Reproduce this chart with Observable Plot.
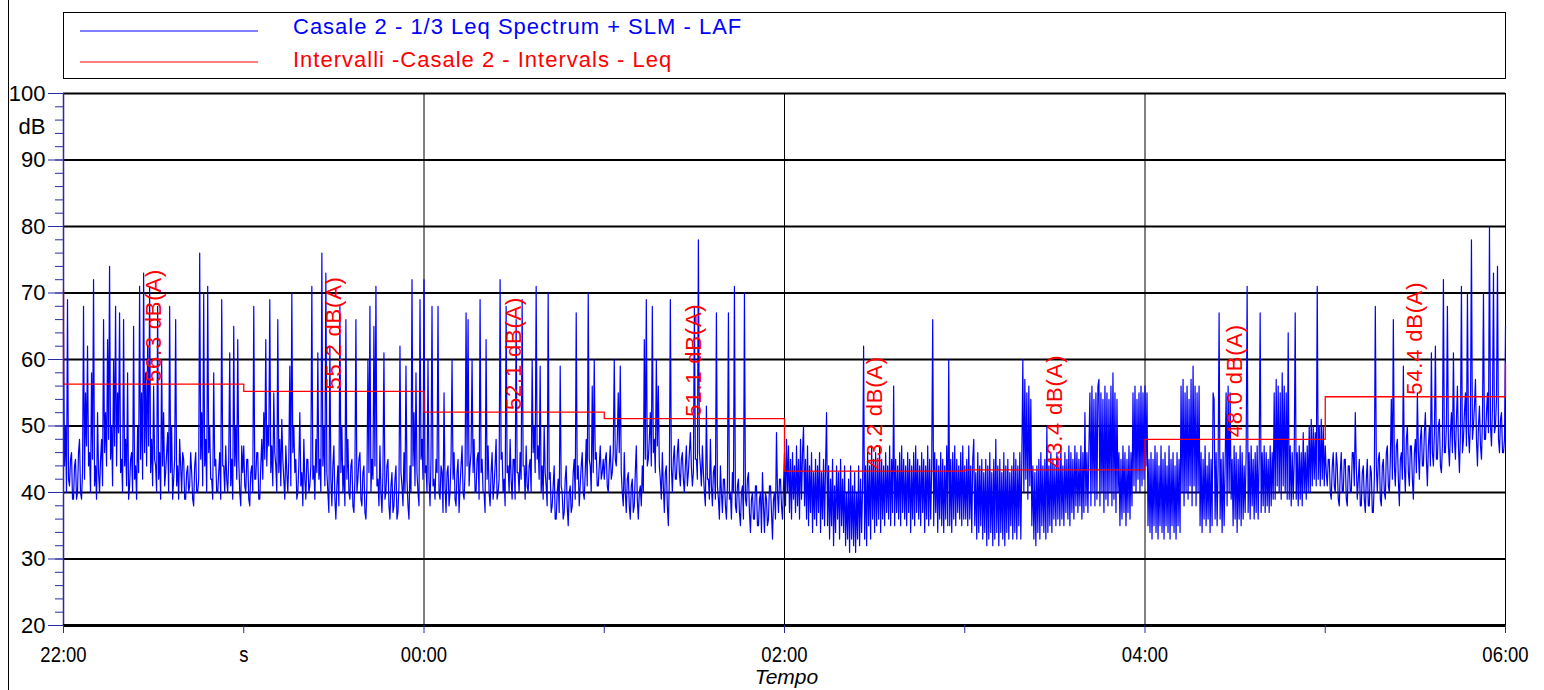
<!DOCTYPE html>
<html><head><meta charset="utf-8">
<script src="https://cdn.jsdelivr.net/npm/d3@7"></script>
<script src="https://cdn.jsdelivr.net/npm/@observablehq/plot@0.6"></script>
<style>
body{margin:0;background:#fff;overflow:hidden;}
#chart svg{display:block;}
.leqlabel text{letter-spacing:0.8px;}
</style></head><body><div id="chart"></div>
<script>
// Blue series: LAF level (dB), one array per hour (22:00 → 06:00),
// 180 samples per hour evenly spread (the last hour also holds the 06:00 point)
const hour1 = [64,44,50,40,69,42,41,45,46,39,39,44,45,39,40,46,48,40,39,43, 68,42,55,47,62,44,46,40,58,45,72,41,44,39,52,43,40,45,48,41, 66,46,52,44,63,48,74,45,50,41,60,47,68,44,55,49,67,43,45,40, 66,44,48,41,58,39,41,45,46,40,65,42,44,39,50,43,71,45,55,42, 73,46,58,44,62,47,71,43,48,41,56,45,44,40,68,42,46,39,60,44, 52,41,43,46,49,40,68,43,50,39,42,45,66,41,44,39,48,44,40,46, 45,39,39,43,44,40,41,46,43,39,38,44,46,40,40,42,76,45,52,41, 70,44,48,40,71,46,50,42,42,39,58,44,45,40,40,43,46,39,69,44, 44,40,47,42,40,45,61,41,45,39,65,44,50,42,63,45,40,38,47,43];
const hour2 = [47,41,40,45,45,39,38,43,44,40,68,42,42,46,46,39,39,44,48,42, 52,45,63,44,50,47,69,43,47,41,55,46,44,40,66,43,48,41,51,45, 42,39,47,43,40,45,59,41,70,46,50,43,45,39,40,44,52,41,43,38, 48,42,39,45,45,40,41,44,71,42,44,39,48,43,61,42,45,40,76,44, 50,41,73,43,40,37,62,42,38,44,47,39,36,41,44,38,68,43,50,40, 44,38,66,42,48,40,39,44,45,38,37,42,66,40,42,45,46,39,38,43, 44,37,36,41,60,43,68,40,45,42,65,44,71,41,42,38,47,40,37,43, 61,39,40,44,45,38,36,41,43,37,38,42,44,36,37,41,62,43,41,38, 46,40,59,42,38,36,44,40,72,44,52,41,58,43,40,38,69,45,48,42];
const hour3 = [72,43,44,40,60,42,38,45,68,41,42,39,45,43,68,40,39,44,43,37, 55,41,37,43,44,38,40,45,60,42,46,39,38,43,45,37,41,44,47,40, 39,43,67,44,66,41,44,46,60,43,48,40,40,45,46,39,69,43,45,40, 40,37,63,42,47,40,38,43,46,39,41,44,48,39,40,42,72,45,46,40, 42,38,68,43,44,40,48,42,39,45,45,39,66,43,43,40,46,42,69,44, 44,39,47,41,40,44,45,40,60,46,50,43,71,45,47,42,59,40,44,39, 50,43,41,38,70,42,43,37,38,41,44,36,36,40,42,37,59,41,40,36, 37,42,44,38,35,40,41,37,38,43,45,39,67,42,44,38,41,44,46,40, 39,43,48,41,70,45,44,40,56,43,60,45,46,41,41,44,47,42,43,45];
const hour4 = [42,45,46,41,40,44,47,42,43,46,60,45,44,48,55,46,59,43,40,38, 46,40,37,42,43,38,36,41,42,37,38,43,47,39,36,40,41,38,44,40, 63,45,69,44,45,48,52,44,68,46,48,43,60,47,56,44,42,39,46,41, 37,43,44,38,35,42,69,44,40,45,47,42,42,46,48,43,41,45,46,42, 40,44,47,41,43,46,49,44,41,43,68,45,45,42,78,46,44,41,47,43, 40,38,53,42,42,39,48,41,38,43,44,39,67,41,39,36,44,40,37,42, 42,38,36,41,67,39,40,36,43,40,71,38,37,41,42,37,35,40,41,36, 70,39,38,42,43,37,34,39,40,36,36,41,41,35,35,39,40,34,43,38, 34,40,39,35,36,41,41,37,33,39,40,36,49,40,37,42,42,38,36,41];
const hour5 = [46,38,48,40,47,37,45,36,46,39, 44,37,47,38,45,36,48,39,46,50, 38,45,36,47,35,44,37,46,34,43, 36,45,35,44,37,46,34,43,36,45, 35,44,52,35,44,33,42,35,45,32, 41,34,44,36,43,33,45,35,42,34, 44,32,40,33,42,31,44,33,41,32, 43,31,40,33,44,32,42,34,41,62, 33,44,32,46,35,44,33,47,36,45, 34,46,35,44,36,47,34,45,36,44, 35,46,37,44,36,47,35,45,37,56, 35,45,37,44,36,46,35,47,37,45, 36,44,35,46,37,45,34,44,36,46, 35,47,37,45,36,44,35,46,37,45, 34,44,36,47,35,45,36,44,66,35, 46,37,45,34,44,36,46,35,45,34, 44,36,47,35,60,35,45,34,46,36, 47,35,45,37,44,36,46,35,47,36];
const hour6 = [44,36,45,35,47,36,44,34,45,48, 35,43,33,46,34,44,35,45,33,43, 34,45,32,44,33,46,34,43,32,45, 33,48,34,44,32,45,34,43,33,46, 32,44,34,45,33,43,35,44,33,46, 34,45,33,44,35,46,33,45,60,40, 57,42,55,39,56,41,54,35,44,33, 43,32,44,34,45,33,46,35,44,34, 45,33,50,34,44,35,46,34,45,36, 44,35,46,36,45,35,47,36,44,35, 46,37,45,36,47,35,46,37,45,36, 47,38,46,37,45,38,47,36,46,37, 52,38,46,37,47,55,38,56,40,54, 38,55,39,56,57,38,55,40,54,37, 56,39,55,38,54,40,56,38,58,39, 55,37,54,40,46,35,45,36,47,37, 46,35,45,37,47,36,46,38,55,41, 56,40,54,42,55,40,56,41,55,42];
const hour7 = [56,44,55,35,45,34,46,33,45,35, 47,34,46,33,44,35,47,34,45,33, 46,35,44,34,47,33,45,35,46,34, 44,33,46,35,45,34,56,40,57,38, 55,40,56,39,54,41,57,38,59,41, 56,38,55,40,56,35,46,34,45,36, 47,35,44,36,46,34,45,35,55,54, 36,46,35,44,67,36,45,34,46,35, 44,55,38,56,40,55,39,45,35,47, 36,46,34,45,36,47,35,46,36,44, 37,46,71,37,46,36,47,38,45,36, 46,37,47,36,45,67,37,46,38,47, 37,46,38,45,37,47,38,46,39,55, 39,57,41,56,40,55,39,58,41,56, 40,55,39,64,39,47,38,46,39,45, 67,39,46,38,47,39,46,38,49,40, 46,39,47,40,50,40,51,41,50,42, 49,41,71,42,50,41,51,42,50,41];
const hour8 = [47,43,41,45,45,40,39,44,46,41,40,46,44,39,38,43,46,40,40,45, 45,39,38,44,44,40,40,46,46,41,52,44,39,42,45,38,38,43,44,39, 37,42,45,38,38,44,43,37,37,42,68,44,40,45,46,39,38,44,45,40, 39,46,47,41,40,45,54,42,66,44,41,47,48,42,38,45,46,42,59,44, 40,48,50,43,41,47,47,42,39,46,48,43,55,46,42,48,50,44,44,49, 52,45,41,47,50,44,61,46,44,49,62,45,45,50,51,44,43,47,72,46, 46,50,68,47,44,49,52,46,61,48,45,51,56,47,43,49,71,46,48,52, 55,47,70,49,46,51,78,48,50,53,57,48,44,50,53,47,45,51,70,48, 48,52,55,49,80,50,47,53,73,49,50,54,74,48,46,51,52,46,46,48, 65];

// Red series: hourly interval Leq
const intervalStart = [0,1,2,3,4,5,6,7];           // hours after 22:00
const intervalLeq   = [56.3,55.2,52.1,51.1,43.2,43.4,48.0,54.4];
const intervalLabels = ["56.3 dB(A)","55.2 dB(A)","52.1 dB(A)","51.1 dB(A)","43.2 dB(A)","43.4 dB(A)","48.0 dB(A)","54.4 dB(A)"];
const stepStartValue = 70.5;
const stepEndValue = 59.4;

// Axes
const xTicks = [0,1,2,3,4,5,6,7,8];
const xTickLabels = ["22:00","s","00:00","","02:00","","04:00","","06:00"];
const xGrid = [2,4,6,8];
const yTicks = [20,30,40,50,60,70,80,90,100];
const yMinorTicks = d3.range(20, 101, 2);
const yUnit = "dB";
const xTitle = "Tempo";
const legendNames = ["Casale 2 - 1/3 Leq Spectrum + SLM - LAF", "Intervalli -Casale 2 - Intervals - Leq"];

const blueColor = "#0000ff", redColor = "#ff0000", axisBlue = "#2a2aa0";

const hours = [hour1,hour2,hour3,hour4,hour5,hour6,hour7,hour8];
const blue = hours.flatMap((arr, h) => {
  const n = h === hours.length - 1 ? arr.length - 1 : arr.length;
  return arr.map((v, i) => ({t: h + i / n, v}));
});
const redSteps = [{t: intervalStart[0], v: stepStartValue},
  ...intervalStart.map((t, i) => ({t, v: intervalLeq[i]})),
  {t: 8, v: intervalLeq[intervalLeq.length - 1]},
  {t: 8, v: stepEndValue}];
const intervals = intervalStart.map((t, i) => ({mid: t + 0.5, leq: intervalLeq[i], label: intervalLabels[i]}));

const chart = Plot.plot({
  width: 1544, height: 690,
  marginTop: 93, marginBottom: 65, marginLeft: 63, marginRight: 39,
  x: {domain: [0, 8], axis: null},
  y: {domain: [20, 100], axis: null},
  style: {fontFamily: "'Liberation Sans', Arial, sans-serif", fontSize: "22px", background: "white", overflow: "visible", color: "black"},
  marks: [
    Plot.ruleY(yTicks, {stroke: "black", strokeWidth: 2}),
    Plot.ruleX(xGrid, {stroke: "black", strokeWidth: 1}),
    Plot.line(blue, {x: "t", y: "v", stroke: blueColor, strokeWidth: 1.2}),
    Plot.line(redSteps, {x: "t", y: "v", curve: "step-after", stroke: redColor, strokeWidth: 1.3}),
    Plot.text(intervals, {x: "mid", y: "leq", text: "label", rotate: -90, textAnchor: "start", lineAnchor: "middle",
      fill: redColor, fontSize: 22, dy: -2, className: "leqlabel"}),
    Plot.ruleX([0], {stroke: axisBlue, strokeWidth: 1.5}),
    Plot.ruleY([20], {stroke: "black", strokeWidth: 3}),
    Plot.axisY({ticks: yTicks, tickSize: 15, tickPadding: 3, stroke: axisBlue, fill: "black", fontSize: 22, anchor: "left", label: null}),
    Plot.axisY({ticks: yMinorTicks, tickSize: 8, tickFormat: () => "", stroke: axisBlue, anchor: "left", label: null}),
    Plot.text([{label: yUnit, v: 95}], {y: "v", text: "label", frameAnchor: "left", dx: -18, textAnchor: "end", fontSize: 22, fill: "black"}),
    Plot.axisX({ticks: xTicks, tickFormat: d => xTickLabels[xTicks.indexOf(d)], tickSize: 8, tickPadding: 13,
      stroke: axisBlue, fill: "black", fontSize: 22, anchor: "bottom", label: null}),
    Plot.text([xTitle], {frameAnchor: "bottom", dx: 2, dy: 58, fontStyle: "italic", fontSize: 21, fill: "black"})
  ]
});
document.getElementById("chart").append(chart);

const svg = d3.select(chart);
// condensed look of the time labels
svg.selectAll("g[aria-label='x-axis tick label'] text").each(function () {
  const len = this.getComputedTextLength();
  if (len > 0) d3.select(this).attr("textLength", len * 0.84).attr("lengthAdjust", "spacingAndGlyphs");
});

// Legend box and page frame line
const sx = chart.scale("x");
const x0 = sx.apply(0), x1 = sx.apply(8);
svg.append("line").attr("x1", 8.5).attr("x2", 8.5).attr("y1", 0).attr("y2", 690).attr("stroke", "black").attr("stroke-width", 1);
const lg = svg.append("g").attr("font-family", "'Liberation Sans', Arial, sans-serif").attr("font-size", 22)
  .attr("letter-spacing", "1px").attr("text-anchor", "start");
lg.append("rect").attr("x", x0 + 0.5).attr("y", 12.5).attr("width", x1 - x0).attr("height", 66).attr("fill", "none").attr("stroke", "black").attr("stroke-width", 1);
[[blueColor, 31, 34], [redColor, 62, 67]].forEach(([c, ly, ty], i) => {
  lg.append("line").attr("x1", x0 + 17).attr("x2", x0 + 195).attr("y1", ly).attr("y2", ly).attr("stroke", c).attr("stroke-width", 1);
  lg.append("text").attr("x", x0 + 230).attr("y", ty).attr("fill", c).attr("text-anchor", "start").text(legendNames[i]);
});
</script></body></html>
